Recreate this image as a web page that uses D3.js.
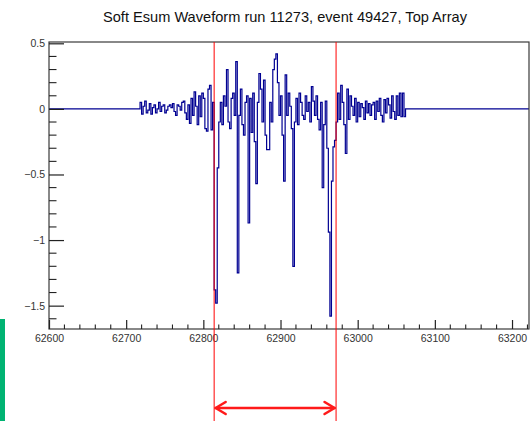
<!DOCTYPE html>
<html>
<head>
<meta charset="utf-8">
<script src="https://cdn.jsdelivr.net/npm/d3@7/dist/d3.min.js"></script>
<style>
  html, body { margin: 0; padding: 0; background: #fff; }
  svg { display: block; }
  text { font-family: "Liberation Sans", Arial, Helvetica, sans-serif; }
</style>
</head>
<body>
<svg id="chart" width="531" height="421"></svg>
<script>
// Waveform samples (time in clock ticks, amplitude)
const sampleTimes = d3.range(62718, 63063, 2);
const sampleValues = [
  // 62718 – 62784 : pre-signal noise
  0.05, -0.04, 0.02, 0.06, -0.03, -0.01, 0.04, -0.04, 0.01, 0.03,
  -0.03, 0.00, 0.05, -0.02, 0.02, 0.03, -0.03, -0.01, 0.02, 0.03,
  0.01, 0.04, -0.02, -0.05, 0.03, 0.02, -0.01, 0.05, 0.06, -0.03,
  -0.08, 0.03, -0.11, 0.08,
  // 62786 – 62812
  -0.05, 0.13, 0.02, -0.12, 0.10, -0.06, 0.12, 0.08, -0.15, -0.17,
  0.15, 0.18, -0.16, 0.05,
  // 62814 – 62820 : first pulse
  -1.38, -1.48, -0.45, -0.10,
  // 62822 – 62858
  0.05, -0.12, 0.10, 0.02, 0.30, -0.10, -0.15, 0.08, 0.12, -0.05,
  0.36, -1.25, -0.05, 0.15, -0.12, -0.20, 0.05, 0.10, -0.87,
  // 62860 – 62898
  0.08, -0.18, 0.12, -0.25, -0.57, 0.05, 0.27, 0.15, -0.10, 0.22,
  -0.20, -0.31, -0.31, 0.05, -0.10, 0.30, 0.38, 0.42, 0.20, -0.05,
  // 62900 – 62972
  0.10, -0.20, -0.55, 0.26, -0.05, 0.12, 0.02, -0.15, -1.20, -0.10,
  0.08, -0.12, 0.12, 0.05, -0.05, -0.08, 0.10, -0.02, 0.05, -0.10,
  0.17, 0.06, -0.05, 0.10, -0.08, -0.16, 0.05, -0.60, -0.12, 0.06,
  -0.30, -0.94, -1.58, -0.55, -0.29, -0.24, -0.10,
  // 62974 – 63062 : tail
  0.12, -0.08, 0.18, 0.05, -0.12, -0.34, 0.15, -0.08, 0.10, 0.02,
  -0.05, 0.08, -0.10, 0.05, -0.06, 0.04, 0.01, -0.08, 0.06, -0.03,
  0.04, -0.05, 0.03, 0.05, -0.08, 0.06, -0.02, 0.08, -0.05, -0.10,
  0.07, -0.03, 0.08, 0.03, -0.07, 0.10, -0.02, -0.08, 0.10, -0.05,
  0.12, -0.06, 0.12, -0.06, 0.00
];

const xDomain = [62600, 63222];
const yDomain = [-1.678, 0.51];
const xTickValues = [62600, 62700, 62800, 62900, 63000, 63100, 63200];
const yTickValues = [0.5, 0, -0.5, -1, -1.5];
const windowEdges = [62814, 62972];   // integration window marked in red
const titleText = "Soft Esum Waveform run 11273, event 49427, Top Array";

const svg = d3.select("#chart");
const frame = { left: 49, right: 529, top: 42, bottom: 329 };

const x = d3.scaleLinear().domain(xDomain).range([frame.left, frame.right]);
const y = d3.scaleLinear().domain(yDomain).range([frame.bottom, frame.top]);

// Side marker strip at the lower left
svg.append("rect")
  .attr("x", 0).attr("y", 319).attr("width", 5).attr("height", 102)
  .attr("fill", "#00b372");

// Title
svg.append("text")
  .attr("x", 285).attr("y", 22)
  .attr("text-anchor", "middle")
  .attr("font-size", 14.6)
  .attr("fill", "#111")
  .text(titleText);

// Waveform as a step line, flat at zero outside the sampled range
const points = [[xDomain[0], 0]]
  .concat(sampleTimes.map((t, i) => [t, sampleValues[i]]))
  .concat([[sampleTimes[sampleTimes.length - 1] + 2, 0], [xDomain[1], 0]]);

const line = d3.line()
  .x(d => x(d[0]))
  .y(d => y(d[1]))
  .curve(d3.curveStepAfter);

svg.append("path")
  .datum(points)
  .attr("d", line)
  .attr("fill", "none")
  .attr("stroke", "#000092")
  .attr("stroke-width", 1.2);

// Frame
svg.append("rect")
  .attr("x", frame.left).attr("y", frame.top)
  .attr("width", frame.right - frame.left)
  .attr("height", frame.bottom - frame.top)
  .attr("fill", "none")
  .attr("stroke", "#3a3a3a")
  .attr("stroke-width", 1.2);

// X axis: ticks pointing into the plot
const xMinor = d3.range(xDomain[0], xDomain[1] + 0.001, 20).filter(v => v % 100 !== 0);
const xAxis = svg.append("g").attr("transform", `translate(0,${frame.bottom})`);
xAxis.call(d3.axisBottom(x).tickValues(xTickValues).tickSize(-9).tickFormat(d3.format("d")))
  .call(g => g.select(".domain").remove());
xAxis.selectAll(".tick line").attr("stroke", "#222").attr("stroke-width", 1.2);
xAxis.selectAll(".tick text")
  .attr("y", 6).attr("dy", "0.71em")
  .attr("font-size", 10.5).attr("fill", "#333")
  .attr("font-family", "Liberation Sans, Arial, sans-serif");
xAxis.selectAll(".minor").data(xMinor).enter().append("line")
  .attr("x1", d => x(d)).attr("x2", d => x(d))
  .attr("y1", 0).attr("y2", -4.5)
  .attr("stroke", "#222").attr("stroke-width", 1.1);

// Y axis: ticks pointing into the plot
const yMinor = d3.range(-16, 6, 1).map(v => v / 10).filter(v => Math.abs(v * 2 - Math.round(v * 2)) > 1e-9);
const yAxis = svg.append("g").attr("transform", `translate(${frame.left},0)`);
yAxis.call(d3.axisLeft(y).tickValues(yTickValues).tickSize(-15)
    .tickFormat(d => d === 0 ? "0" : d3.format("")(d).replace("-", "\u2212")))
  .call(g => g.select(".domain").remove());
yAxis.selectAll(".tick line").attr("stroke", "#222").attr("stroke-width", 1.2);
yAxis.selectAll(".tick text")
  .attr("x", -4)
  .attr("font-size", 10.5).attr("fill", "#333")
  .attr("font-family", "Liberation Sans, Arial, sans-serif");
yAxis.selectAll(".minor").data(yMinor).enter().append("line")
  .attr("x1", 0).attr("x2", 7.5)
  .attr("y1", d => y(d)).attr("y2", d => y(d))
  .attr("stroke", "#222").attr("stroke-width", 1.1);

// Window edges and the double-headed arrow spanning them
svg.selectAll(".edge").data(windowEdges).enter().append("line")
  .attr("x1", d => x(d)).attr("x2", d => x(d))
  .attr("y1", frame.top).attr("y2", 421)
  .attr("stroke", "#ff0000").attr("stroke-width", 1);

const ay = 408;
const ax0 = x(windowEdges[0]) + 1.5, ax1 = x(windowEdges[1]) - 1.5;
const arrow = svg.append("g")
  .attr("stroke", "#ff1a1a").attr("stroke-width", 2.6)
  .attr("fill", "none").attr("stroke-linecap", "round").attr("stroke-linejoin", "round");
arrow.append("line").attr("x1", ax0).attr("x2", ax1).attr("y1", ay).attr("y2", ay);
arrow.append("polyline").attr("points", `${ax0 + 10},${ay - 6} ${ax0},${ay} ${ax0 + 10},${ay + 6}`);
arrow.append("polyline").attr("points", `${ax1 - 10},${ay - 6} ${ax1},${ay} ${ax1 - 10},${ay + 6}`);
</script>
</body>
</html>
